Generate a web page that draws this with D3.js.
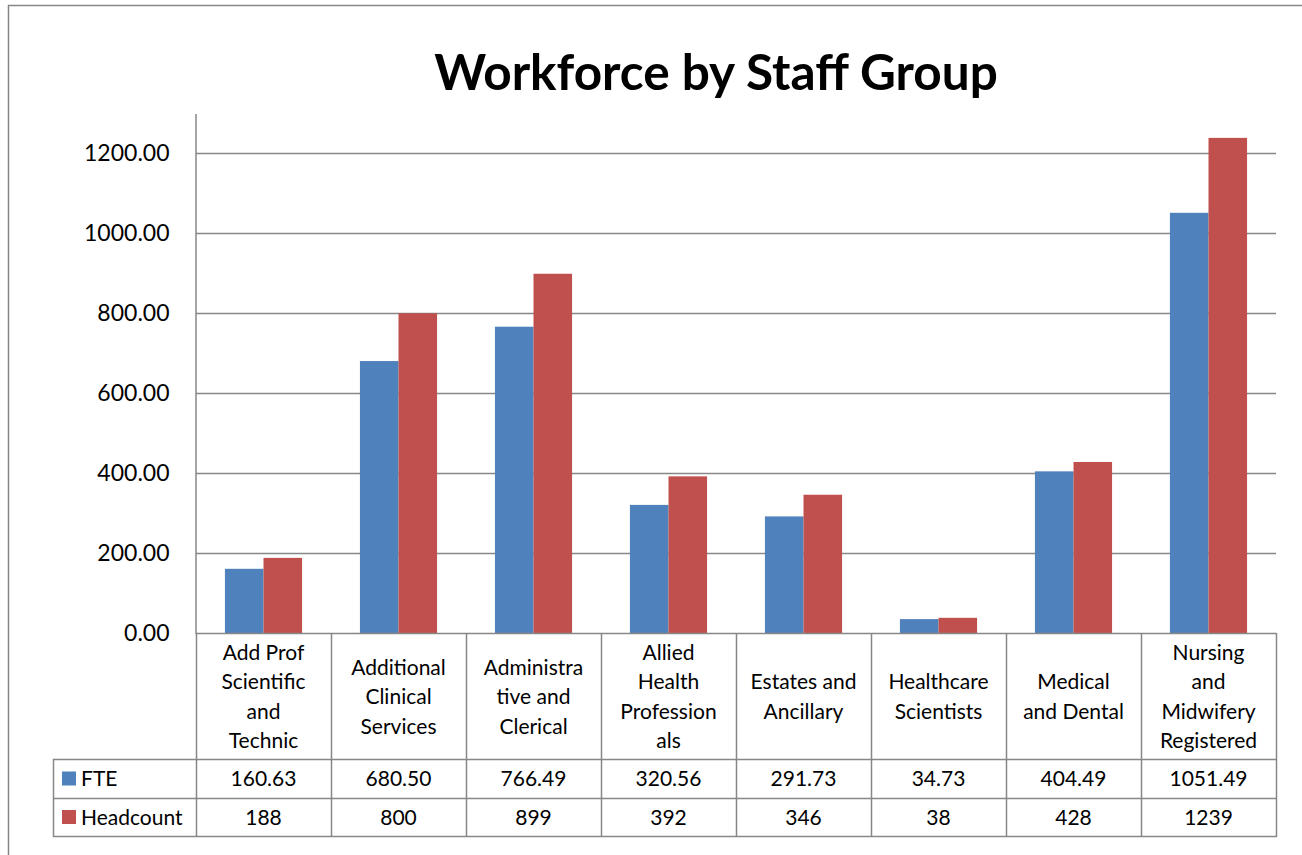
<!DOCTYPE html>
<html>
<head>
<meta charset="utf-8">
<script src="https://cdn.jsdelivr.net/npm/d3@7"></script>
<style>
  html, body { margin: 0; padding: 0; background: #fff; }
  svg { display: block; font-family: "Lato", "Open Sans", sans-serif; }
</style>
</head>
<body>
<svg id="chart" width="1302" height="855"></svg>
<script>
// Staff groups and their wrapped labels as shown in the data table
const categories = [
  "Add Prof Scientific and Technic",
  "Additional Clinical Services",
  "Administrative and Clerical",
  "Allied Health Professionals",
  "Estates and Ancillary",
  "Healthcare Scientists",
  "Medical and Dental",
  "Nursing and Midwifery Registered"
];
const categoryLines = [
  ["Add Prof", "Scientific", "and", "Technic"],
  ["Additional", "Clinical", "Services"],
  ["Administra", "tive and", "Clerical"],
  ["Allied", "Health", "Profession", "als"],
  ["Estates and", "Ancillary"],
  ["Healthcare", "Scientists"],
  ["Medical", "and Dental"],
  ["Nursing", "and", "Midwifery", "Registered"]
];
const seriesNames = ["FTE", "Headcount"];
const fte = [160.63, 680.50, 766.49, 320.56, 291.73, 34.73, 404.49, 1051.49];
const headcount = [188, 800, 899, 392, 346, 38, 428, 1239];
const yTicks = [0, 200, 400, 600, 800, 1000, 1200];
const seriesColors = ["#4F81BD", "#C0504D"];

const series = [fte, headcount];
const fmt = [d3.format(".2f"), d3.format("d")];

const svg = d3.select("#chart");
const gridColor = "#878787";

// Outer chart frame
svg.append("rect")
  .attr("x", 8.5).attr("y", 5.5)
  .attr("width", 1400).attr("height", 1000)
  .attr("fill", "none").attr("stroke", gridColor).attr("stroke-width", 1.5);

// Title
svg.append("text")
  .attr("x", 716).attr("y", 90)
  .attr("text-anchor", "middle")
  .attr("font-weight", "bold")
  .attr("font-size", 49.5)
  .attr("fill", "#000")
  .text("Workforce by Staff Group");

// Scales
const plotLeft = 196, plotRight = 1276, plotBottom = 633;
const x = d3.scaleBand().domain(categories).range([plotLeft, plotRight]).padding(0);
const xs = d3.scaleBand().domain(seriesNames).range([0, x.bandwidth()])
  .paddingInner(0).paddingOuter(0.75);
const y = d3.scaleLinear().domain([0, 1300]).range([plotBottom, 113.5]);

// Horizontal gridlines
svg.append("g")
  .selectAll("line")
  .data(yTicks.filter(d => d > 0))
  .join("line")
  .attr("x1", plotLeft).attr("x2", plotRight)
  .attr("y1", d => Math.round(y(d)) + 0.5).attr("y2", d => Math.round(y(d)) + 0.5)
  .attr("stroke", gridColor).attr("stroke-width", 1.5);

// Value axis
const yAxis = d3.axisLeft(y).tickValues(yTicks).tickFormat(d3.format(".2f")).tickSize(0).tickPadding(26);
const yg = svg.append("g").attr("transform", `translate(${plotLeft - 0.5},0)`).call(yAxis);
yg.select(".domain").attr("stroke", gridColor).attr("stroke-width", 1.5);
yg.selectAll("text")
  .attr("font-size", 23)
  .attr("font-family", "Lato, sans-serif")
  .attr("fill", "#000");

// Bars
const groups = svg.append("g")
  .selectAll("g")
  .data(categories)
  .join("g")
  .attr("transform", d => `translate(${x(d)},0)`);

groups.selectAll("rect")
  .data((d, i) => seriesNames.map((s, j) => ({ s, v: series[j][i], j })))
  .join("rect")
  .attr("x", d => xs(d.s))
  .attr("width", xs.bandwidth())
  .attr("y", d => y(d.v))
  .attr("height", d => y(0) - y(d.v))
  .attr("fill", d => seriesColors[d.j]);

// Data table
const rowTop = 759, rowMid = 798, rowBottom = 836, legendLeft = 53;
const table = svg.append("g").attr("stroke", gridColor).attr("stroke-width", 1.5);

// x axis line / top of table
table.append("line")
  .attr("x1", plotLeft - 0.5).attr("x2", plotRight + 0.5)
  .attr("y1", plotBottom + 0.5).attr("y2", plotBottom + 0.5);
[rowTop, rowMid, rowBottom].forEach(yy => {
  table.append("line")
    .attr("x1", legendLeft).attr("x2", plotRight + 0.5)
    .attr("y1", yy + 0.5).attr("y2", yy + 0.5);
});
// column separators
const colEdges = categories.map(c => x(c)).concat([plotRight]);
table.selectAll("line.col")
  .data(colEdges)
  .join("line")
  .attr("class", "col")
  .attr("x1", d => d + 0.5).attr("x2", d => d + 0.5)
  .attr("y1", plotBottom).attr("y2", rowBottom + 1);
table.append("line")
  .attr("x1", legendLeft + 0.5).attr("x2", legendLeft + 0.5)
  .attr("y1", rowTop).attr("y2", rowBottom + 1);

// Category labels
const labelCenter = (plotBottom + rowTop) / 2 - 1, lineH = 29.5;
const labels = svg.append("g")
  .attr("font-size", 21)
  .attr("text-anchor", "middle")
  .attr("fill", "#000");
categories.forEach((c, i) => {
  const lines = categoryLines[i];
  const t = labels.append("text")
    .attr("x", x(c) + x.bandwidth() / 2)
    .attr("y", labelCenter - (lines.length - 1) * lineH / 2)
    .attr("dominant-baseline", "central");
  lines.forEach((ln, k) => {
    t.append("tspan")
      .attr("x", x(c) + x.bandwidth() / 2)
      .attr("dy", k === 0 ? 0 : lineH)
      .text(ln);
  });
});

// Legend keys and values rows
const rowCenters = [(rowTop + rowMid) / 2 - 1, (rowMid + rowBottom) / 2 - 1];
seriesNames.forEach((s, j) => {
  svg.append("rect")
    .attr("x", 62).attr("y", rowCenters[j] - 6)
    .attr("width", 14).attr("height", 14)
    .attr("fill", seriesColors[j]);
  svg.append("text")
    .attr("x", 81).attr("y", rowCenters[j])
    .attr("dominant-baseline", "central")
    .attr("font-size", 21)
    .attr("fill", "#000")
    .text(s);
  svg.append("g")
    .selectAll("text")
    .data(categories)
    .join("text")
    .attr("x", d => x(d) + x.bandwidth() / 2)
    .attr("y", rowCenters[j])
    .attr("dominant-baseline", "central")
    .attr("text-anchor", "middle")
    .attr("font-size", 21)
    .attr("fill", "#000")
    .text((d, i) => fmt[j](series[j][i]));
});
</script>
</body>
</html>
